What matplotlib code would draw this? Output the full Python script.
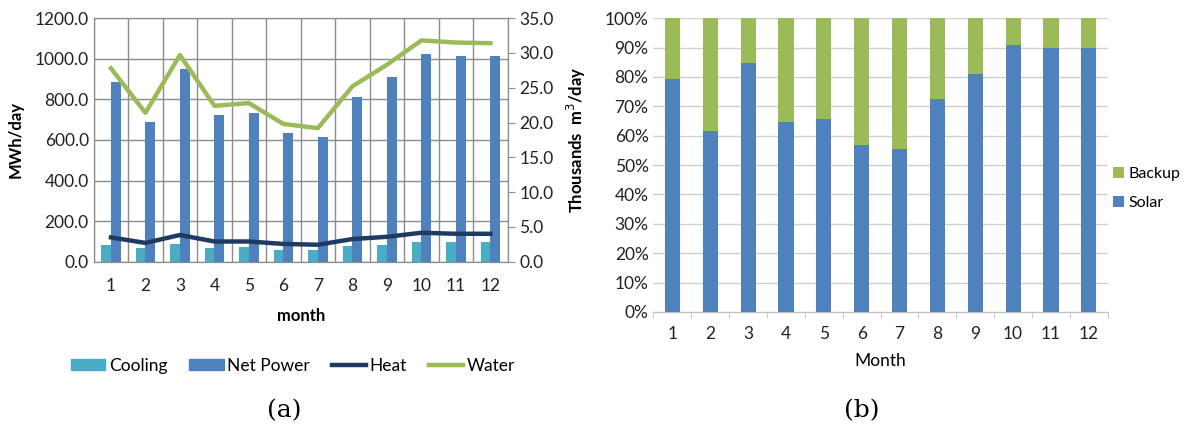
import matplotlib
matplotlib.use("Agg")
import matplotlib.pyplot as plt
import numpy as np
from matplotlib.ticker import FuncFormatter, MultipleLocator, FixedLocator
from matplotlib.patches import Patch
from matplotlib.lines import Line2D

plt.rcParams['font.family'] = ['Lato', 'DejaVu Sans']

months = [1, 2, 3, 4, 5, 6, 7, 8, 9, 10, 11, 12]
cooling = [84, 68, 88, 68, 74, 59, 59, 78, 84, 99, 99, 99]
net_power = [885, 688, 949, 723, 732, 634, 616, 811, 912, 1023, 1013, 1013]
heat = [120, 93, 132, 100, 100, 88, 84, 112, 123, 143, 138, 138]
water = [27.8, 21.4, 29.7, 22.4, 22.8, 19.8, 19.2, 25.2, 28.3, 31.8, 31.5, 31.4]

solar = [79.2, 61.7, 84.8, 64.7, 65.6, 56.9, 55.3, 72.6, 81.1, 90.8, 89.9, 89.9]
backup = [100 - s for s in solar]

c_cool = '#4BACC6'
c_net = '#4F81BD'
c_heat = '#1F3B64'
c_water = '#9BBB59'
grid_c = '#8C8C8C'

fig = plt.figure(figsize=(11.86, 4.32), dpi=100)

# ---------------- (a) ----------------
ax = fig.add_axes([0.079, 0.394, 0.349, 0.564])
x = np.arange(len(months))
w = 0.28
ax.bar(x - w / 2, cooling, w, color=c_cool, zorder=3)
ax.bar(x + w / 2, net_power, w, color=c_net, zorder=3)
ax.plot(x, heat, color=c_heat, lw=3.2, zorder=4)
ax.set_xlim(-0.5, 11.5)
ax.set_ylim(0, 1200)
ax.yaxis.set_major_locator(MultipleLocator(200))
ax.yaxis.set_major_formatter(FuncFormatter(lambda v, p: f"{v:.1f}"))
ax.set_xticks(x)
ax.set_xticklabels([str(m) for m in months])
ax.xaxis.set_minor_locator(FixedLocator(np.arange(-0.5, 12, 1)))
ax.grid(True, axis='y', which='major', color=grid_c, lw=1.0, zorder=0)
ax.grid(True, axis='x', which='minor', color=grid_c, lw=1.0, zorder=0)
ax.tick_params(axis='both', which='both', length=0, labelsize=12.5, colors='#222222')
ax.tick_params(axis='x', pad=12)
for s in ['top', 'right', 'bottom', 'left']:
    ax.spines[s].set_color(grid_c)
ax.set_ylabel('MWh/day', fontsize=12, fontweight='bold', labelpad=8)
ax.set_xlabel('month', fontsize=12, fontweight='bold', labelpad=10)

ax2 = ax.twinx()
ax2.plot(x, water, color=c_water, lw=3.2, zorder=5)
ax2.set_ylim(0, 35)
ax2.yaxis.set_major_locator(MultipleLocator(5))
ax2.yaxis.set_major_formatter(FuncFormatter(lambda v, p: f"{v:.1f}"))
ax2.tick_params(axis='y', length=5, color=grid_c, labelsize=12.5, labelcolor='#222222')
for s in ['top', 'right', 'bottom', 'left']:
    ax2.spines[s].set_color(grid_c)
ax2.set_ylabel('Thousands  m$^3$/day', fontsize=12, fontweight='bold', labelpad=8)

handles = [Patch(color=c_cool, label='Cooling'),
           Patch(color=c_net, label='Net Power'),
           Line2D([0], [0], color=c_heat, lw=3.2, label='Heat'),
           Line2D([0], [0], color=c_water, lw=3.2, label='Water')]
fig.legend(handles=handles, loc='center', bbox_to_anchor=(0.247, 0.153), ncol=4,
           frameon=False, fontsize=12.5, handlelength=2.0, handleheight=0.6,
           handletextpad=0.2, columnspacing=1.25)
fig.text(0.24, 0.05, '(a)', fontsize=18, family='DejaVu Serif', ha='center', va='center')

# ---------------- (b) ----------------
bx = fig.add_axes([0.551, 0.278, 0.383, 0.680])
wb = 0.4
bx.bar(x, solar, wb, color=c_net, label='Solar', zorder=3)
bx.bar(x, backup, wb, bottom=solar, color=c_water, label='Backup', zorder=3)
bx.set_xlim(-0.5, 11.5)
bx.set_ylim(0, 100)
bx.yaxis.set_major_locator(MultipleLocator(10))
bx.yaxis.set_major_formatter(FuncFormatter(lambda v, p: f"{int(v)}%"))
bx.set_xticks(x)
bx.set_xticklabels([str(m) for m in months])
bx.xaxis.set_minor_locator(FixedLocator(np.arange(-0.5, 12, 1)))
bx.grid(True, axis='y', color='#D0D0D0', lw=1.0, zorder=0)
bx.tick_params(axis='x', which='major', length=0, labelsize=12.5, pad=10, colors='#222222')
bx.tick_params(axis='x', which='minor', length=4, color='#BFBFBF')
bx.tick_params(axis='y', length=0, labelsize=12.5, colors='#222222')
for s in ['top', 'right', 'left']:
    bx.spines[s].set_visible(False)
bx.spines['bottom'].set_color('#BFBFBF')
bx.set_xlabel('Month', fontsize=12.5, labelpad=8)
hb, lb = bx.get_legend_handles_labels()
bx.legend(hb[::-1], lb[::-1], loc='center left', bbox_to_anchor=(1.0, 0.42),
          frameon=False, fontsize=11.5, handlelength=0.7, handleheight=0.7,
          handletextpad=0.3, labelspacing=0.9, borderaxespad=0.1, borderpad=0.2)
fig.text(0.727, 0.05, '(b)', fontsize=18, family='DejaVu Serif', ha='center', va='center')

fig.savefig('out.png', dpi=100)
